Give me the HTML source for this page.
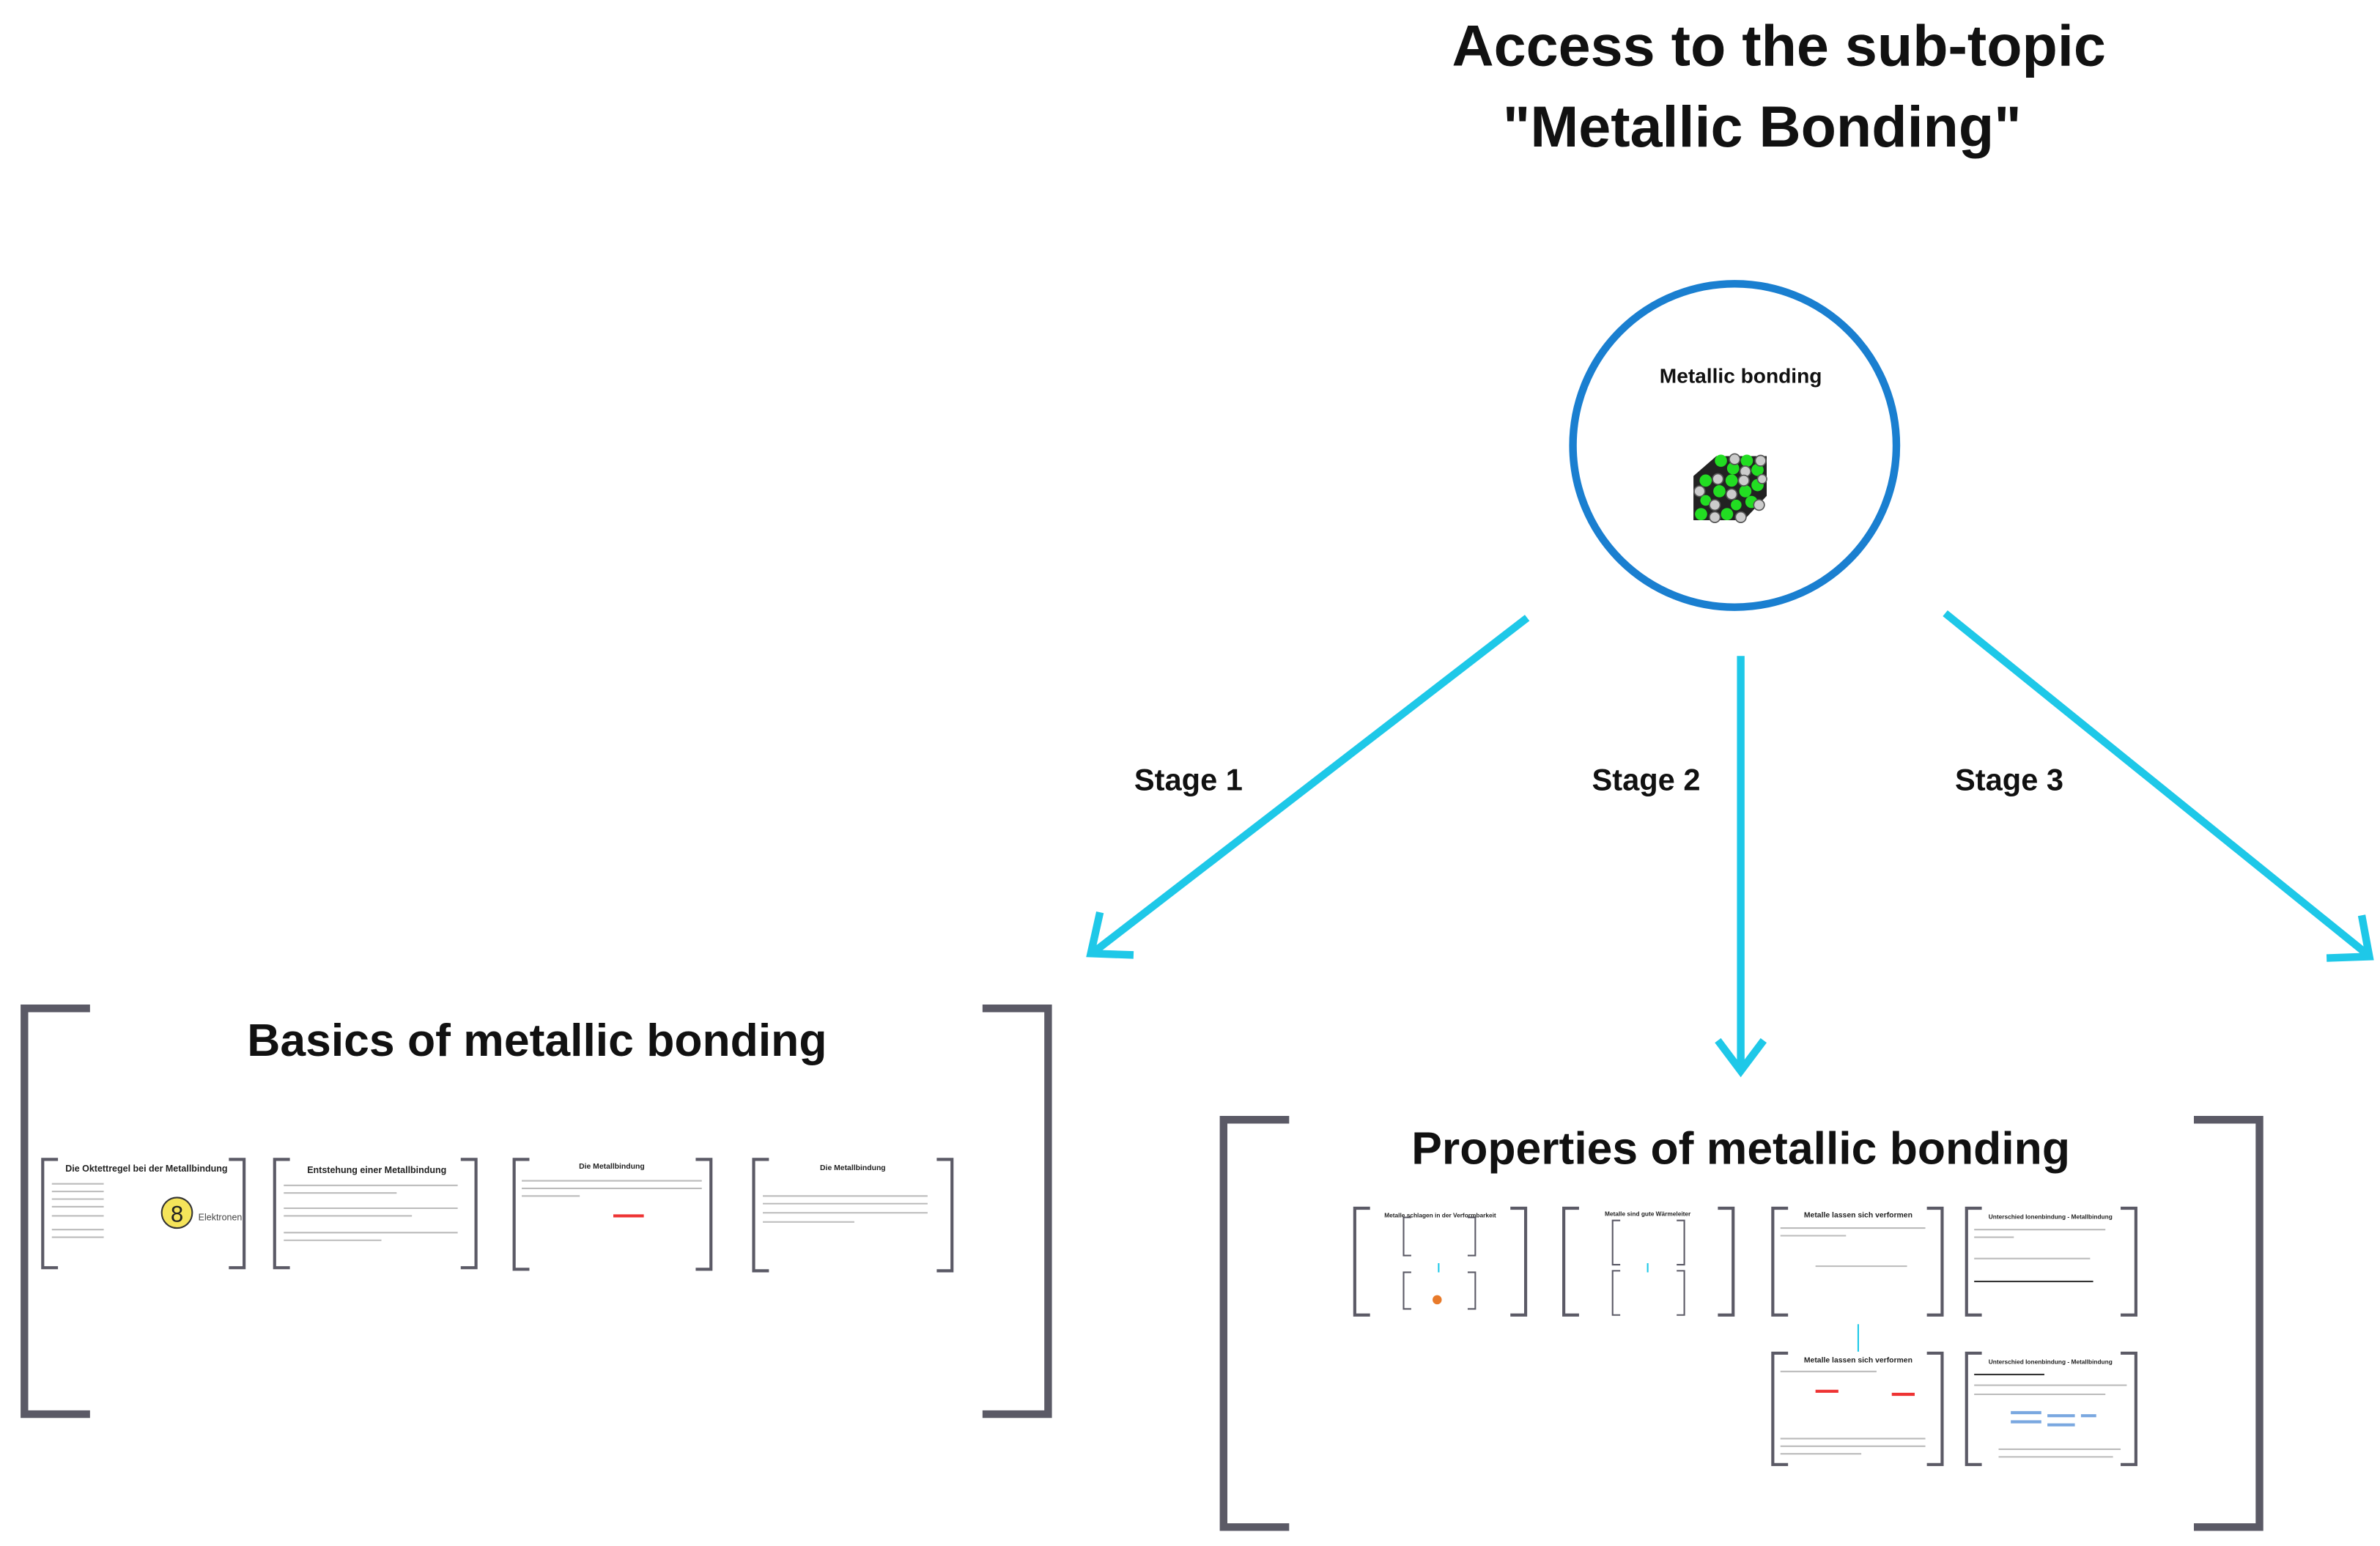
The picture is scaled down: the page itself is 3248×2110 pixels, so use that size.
<!DOCTYPE html>
<html><head><meta charset="utf-8"><style>
html,body{margin:0;padding:0;background:#fff;}
svg{display:block;}
text{font-family:"Liberation Sans","DejaVu Sans",sans-serif;}
</style></head><body>
<svg width="3248" height="2110" viewBox="0 0 1560 1013.4" xmlns="http://www.w3.org/2000/svg">
<rect width="1560" height="1013.4" fill="#fff"/>
<!-- Title -->
<text x="1166" y="43" font-size="38" font-weight="bold" text-anchor="middle" fill="#111">Access to the sub-topic</text>
<text x="1155" y="96" font-size="38" font-weight="bold" text-anchor="middle" fill="#111">"Metallic Bonding"</text>
<!-- circle -->
<circle cx="1137" cy="292" r="106" fill="#fff" stroke="#1a7fd0" stroke-width="5"/>
<text x="1141" y="251" font-size="13.5" font-weight="bold" text-anchor="middle" fill="#111">Metallic bonding</text>
<!-- cube -->
<g>
<polygon points="1110,312 1125,299 1158,299 1158,325 1143,341 1110,341" fill="#222"/>
<g fill="#22dd22">
<circle cx="1128" cy="302" r="4"/><circle cx="1145" cy="302" r="4"/><circle cx="1136" cy="307" r="4"/><circle cx="1152" cy="308" r="4"/>
<circle cx="1118" cy="315" r="4"/><circle cx="1135" cy="315" r="4"/><circle cx="1127" cy="322" r="4"/><circle cx="1144" cy="322" r="4"/>
<circle cx="1115" cy="337" r="4"/><circle cx="1132" cy="337" r="4"/><circle cx="1152" cy="318" r="4"/><circle cx="1148" cy="329" r="4"/>
<circle cx="1118" cy="328" r="3.5"/><circle cx="1138" cy="331" r="3.5"/>
</g>
<g fill="#ccc" stroke="#555" stroke-width="0.8">
<circle cx="1137" cy="301" r="3.5"/><circle cx="1154" cy="302" r="3.5"/><circle cx="1144" cy="309" r="3.5"/>
<circle cx="1126" cy="314" r="3.5"/><circle cx="1143" cy="315" r="3.5"/><circle cx="1114" cy="322" r="3.5"/><circle cx="1135" cy="324" r="3.5"/>
<circle cx="1124" cy="331" r="3.5"/><circle cx="1141" cy="339" r="3.5"/><circle cx="1124" cy="339" r="3.5"/><circle cx="1153" cy="331" r="3.5"/><circle cx="1155" cy="314" r="3"/>
</g>
</g>
<!-- arrows -->
<g stroke="#1ec8e8" stroke-width="5" fill="none" stroke-linecap="butt">
<line x1="1001" y1="405" x2="717" y2="624"/>
<polyline points="721,598 715,625 743,626"/>
<line x1="1141" y1="430" x2="1141" y2="700"/>
<polyline points="1126,682 1141,702 1156,682"/>
<line x1="1275" y1="402" x2="1551" y2="625"/>
<polyline points="1548,600 1553,627 1525,628"/>
</g>
<g font-size="20" font-weight="bold" fill="#111" text-anchor="middle">
<text x="779" y="518">Stage 1</text>
<text x="1079" y="518">Stage 2</text>
<text x="1317" y="518">Stage 3</text>
</g>
<!-- big brackets -->
<g stroke="#5b5a66" stroke-width="5" fill="none">
<path d="M59 661 H16 V927 H59 M644 661 H687 V927 H644"/>
<path d="M845 734 H802 V1001 H845 M1438 734 H1481 V1001 H1438"/>
</g>
<text x="352" y="692" font-size="30" font-weight="bold" text-anchor="middle" fill="#111">Basics of metallic bonding</text>
<text x="1141" y="763" font-size="30" font-weight="bold" text-anchor="middle" fill="#111">Properties of metallic bonding</text>
<!-- small thumbnail brackets -->
<g stroke="#5b5a66" stroke-width="2" fill="none">
<path d="M38 760 H28 V831 H38 M150 760 H160 V831 H150"/>
<path d="M190 760 H180 V831 H190 M302 760 H312 V831 H302"/>
<path d="M347 760 H337 V832 H347 M456 760 H466 V832 H456"/>
<path d="M504 760 H494 V833 H504 M614 760 H624 V833 H614"/>
<path d="M898 792 H888 V862 H898 M990 792 H1000 V862 H990"/>
<path d="M1035 792 H1025 V862 H1035 M1126 792 H1136 V862 H1126"/>
<path d="M1172 792 H1162 V862 H1172 M1263 792 H1273 V862 H1263"/>
<path d="M1299 792 H1289 V862 H1299 M1390 792 H1400 V862 H1390"/>
<path d="M1172 887 H1162 V960 H1172 M1263 887 H1273 V960 H1263"/>
<path d="M1299 887 H1289 V960 H1299 M1390 887 H1400 V960 H1390"/>
<path stroke-width="1" d="M925 798 H920 V823 H925 M962 798 H967 V823 H962 M925 834 H920 V858 H925 M962 834 H967 V858 H962"/>
<path stroke-width="1" d="M1062 800 H1057 V829 H1062 M1099 800 H1104 V829 H1099 M1062 833 H1057 V862 H1062 M1099 833 H1104 V862 H1099"/>
</g>
<g font-size="6" font-weight="bold" fill="#222" text-anchor="middle">
<text x="96" y="768">Die Oktettregel bei der Metallbindung</text>
<text x="247" y="769">Entstehung einer Metallbindung</text>
<text x="401" y="766" font-size="5">Die Metallbindung</text>
<text x="559" y="767" font-size="5">Die Metallbindung</text>
<text x="944" y="798" font-size="4">Metalle schlagen in der Verformbarkeit</text>
<text x="1080" y="797" font-size="4">Metalle sind gute Wärmeleiter</text>
<text x="1218" y="798" font-size="5">Metalle lassen sich verformen</text>
<text x="1344" y="799" font-size="4">Unterschied Ionenbindung - Metallbindung</text>
<text x="1218" y="893" font-size="5">Metalle lassen sich verformen</text>
<text x="1344" y="894" font-size="4">Unterschied Ionenbindung - Metallbindung</text>
</g>
<g stroke="#bbb" stroke-width="1">
<path d="M34 776 H68 M34 781 H68 M34 786 H68 M34 791 H68 M34 797 H68 M34 806 H68 M34 811 H68"/>
<path d="M186 777 H300 M186 782 H260 M186 792 H300 M186 797 H270 M186 808 H300 M186 813 H250"/>
<path d="M342 774 H460 M342 779 H460 M342 784 H380"/>
<path d="M500 784 H608 M500 789 H608 M500 795 H608 M500 801 H560"/>
<path d="M1167 805 H1262 M1167 810 H1210 M1190 830 H1250"/>
<path d="M1294 806 H1380 M1294 811 H1320 M1294 825 H1370"/>
<path d="M1167 899 H1230 M1167 943 H1262 M1167 948 H1262 M1167 953 H1220"/>
<path d="M1294 908 H1394 M1294 914 H1380 M1310 950 H1390 M1310 955 H1385"/>
</g>
<path d="M1294 840 H1372" stroke="#333" stroke-width="1"/>
<path d="M1294 901 H1340" stroke="#333" stroke-width="1"/>
<circle cx="116" cy="795" r="10" fill="#f5e45a" stroke="#333" stroke-width="1"/>
<text x="116" y="801" font-size="15" text-anchor="middle" fill="#222">8</text>
<text x="130" y="800" font-size="6" fill="#444">Elektronen</text>
<path d="M402 797 h20 M1190 912 h15 M1240 914 h15" stroke="#e33" stroke-width="2"/>
<path d="M943 828 v6 M1080 828 v6 M1218 868 v18" stroke="#1ec8e8" stroke-width="1"/>
<circle cx="942" cy="852" r="3" fill="#e87a2a"/>
<path d="M1318 926 h20 M1318 932 h20 M1342 928 h18 M1342 934 h18 M1364 928 h10" stroke="#7aa8e0" stroke-width="2"/>
</svg>
</body></html>
